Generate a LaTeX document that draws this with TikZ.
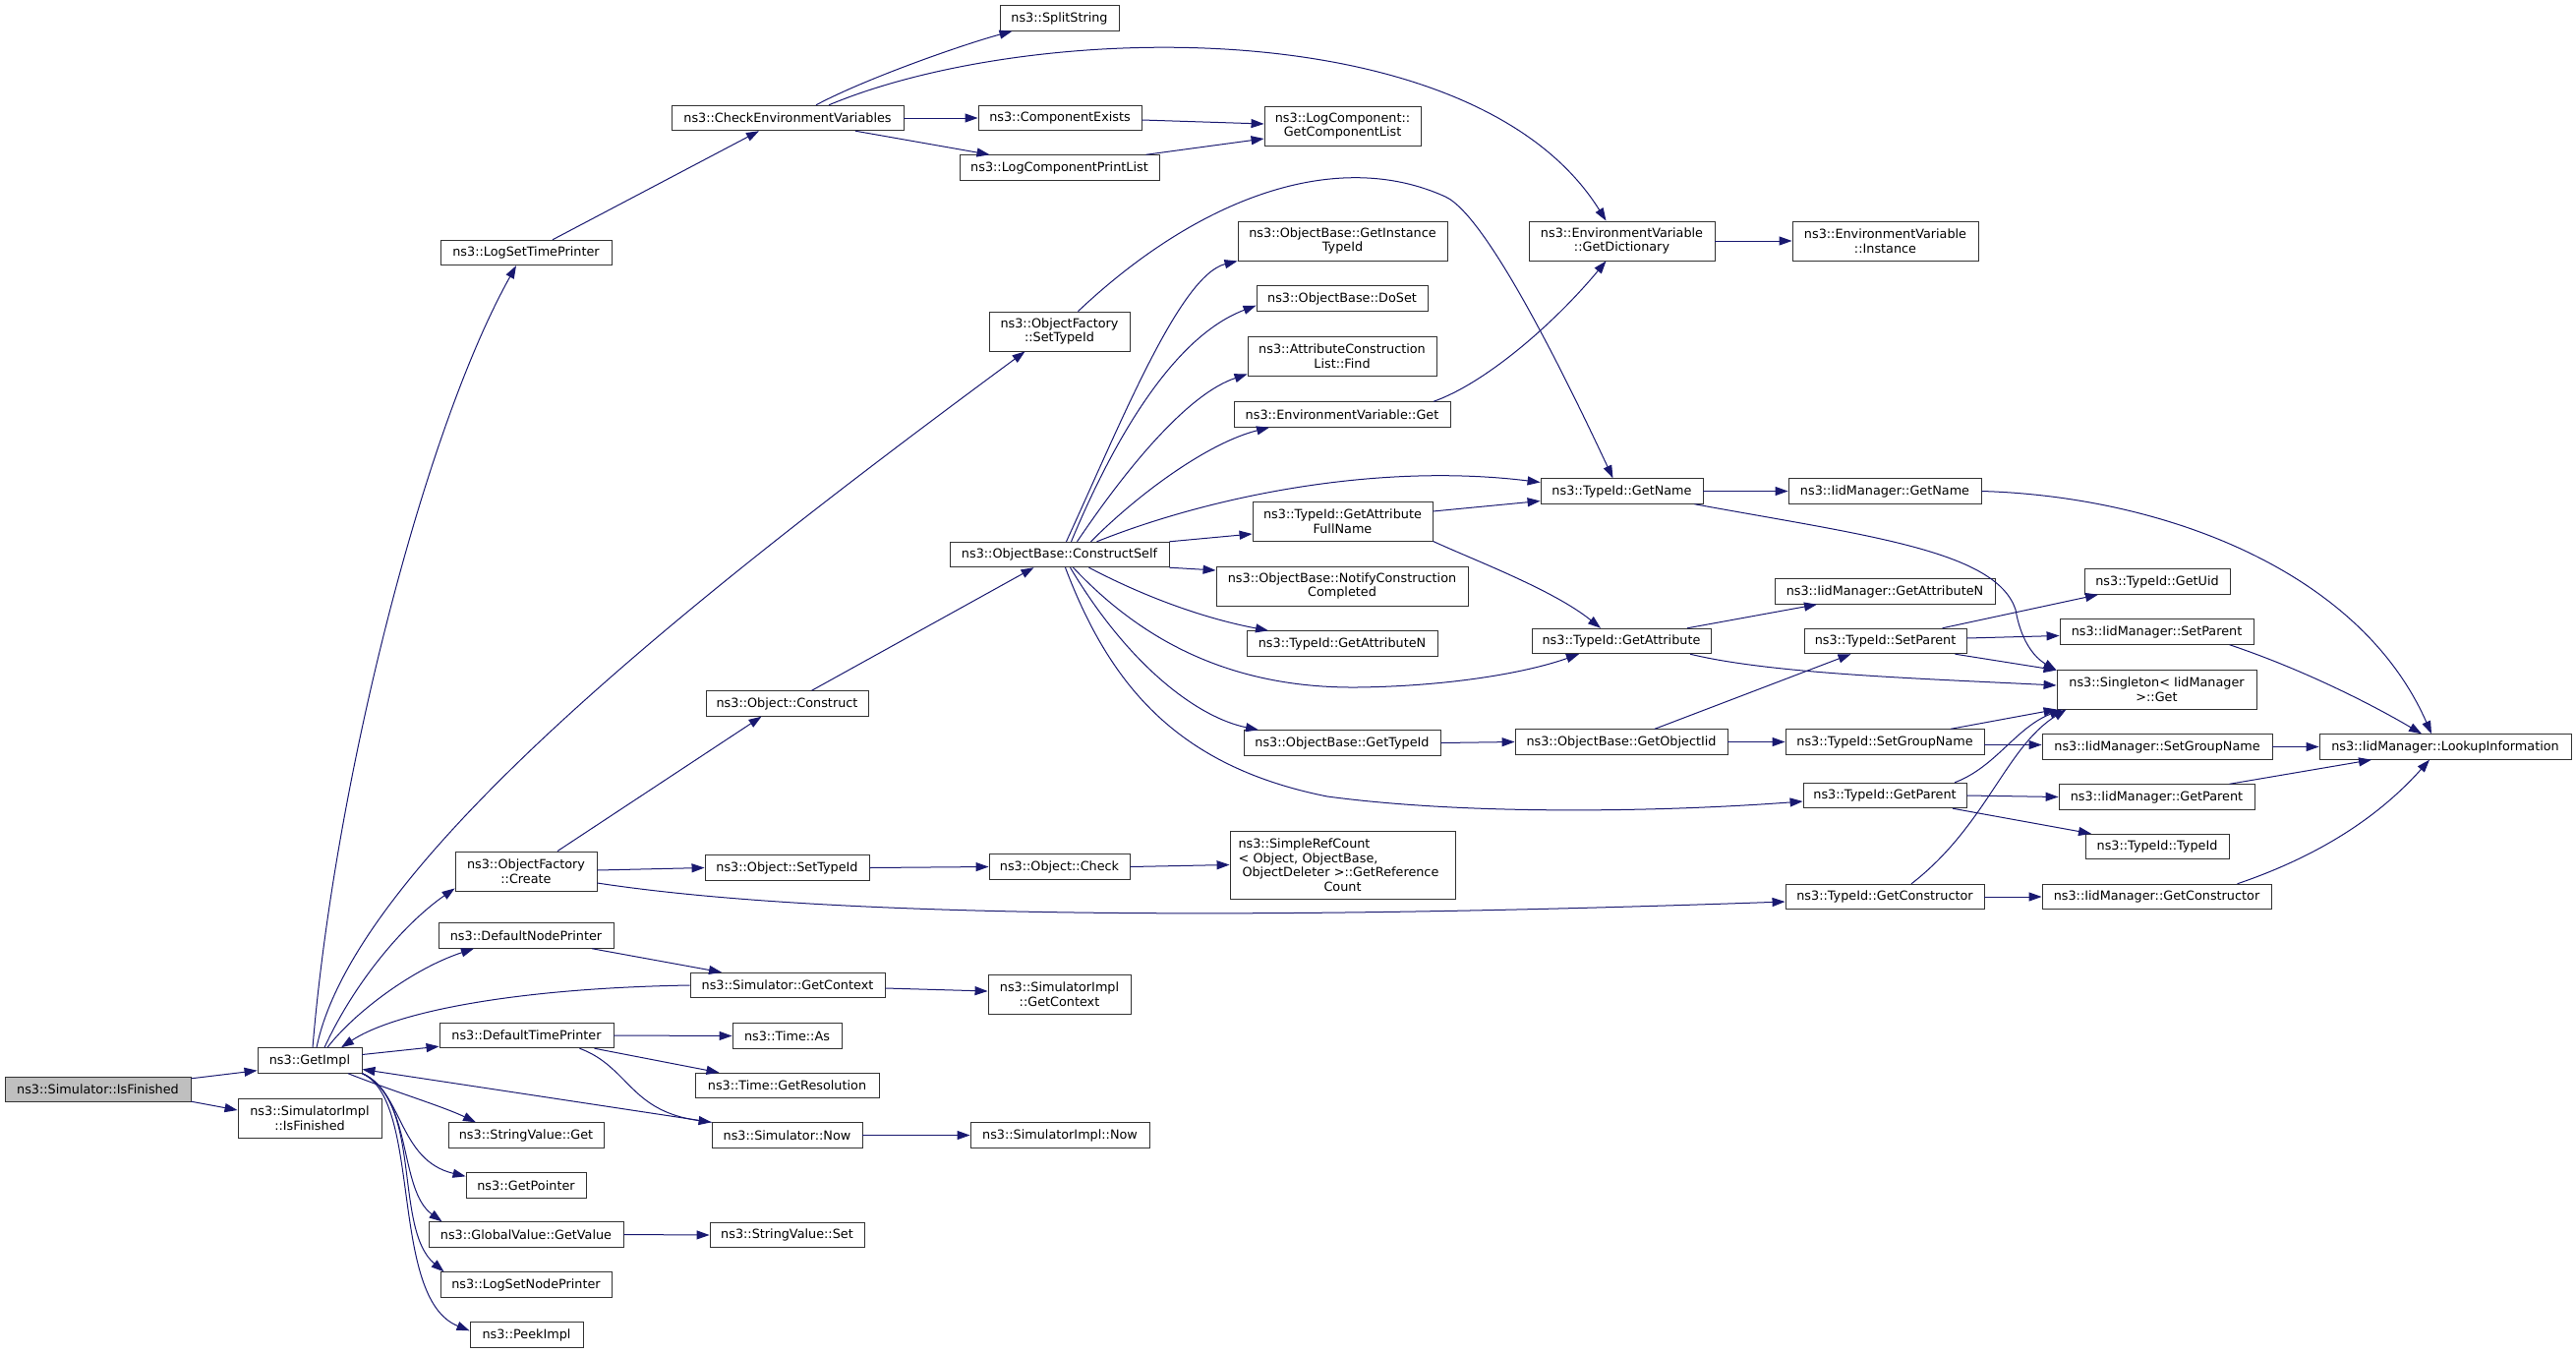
\documentclass[tikz,border=0pt]{standalone}
\usepackage{fontspec}
\setmainfont{DejaVu Sans}
\usetikzlibrary{arrows.meta}
\definecolor{edgec}{HTML}{191970}
\definecolor{rootfill}{HTML}{BFBFBF}
\tikzset{
 fn/.style={draw=black!80, line width=0.9pt, fill=white, inner sep=0pt, minimum height=25.5pt, font=\fontsize{12.8}{14.5}\selectfont, align=center},
 fn2/.style={fn, minimum height=40pt},
 ed/.style={draw=edgec, line width=1pt, -{Triangle[length=13pt,width=9pt]}},
}
\begin{document}
\begin{tikzpicture}[x=1pt,y=-1pt]
\useasboundingbox (0,0) rectangle (2620,1376);
% column 1-3
\node[fn, minimum width=189pt, fill=rootfill] (root) at (99.5,1108) {ns3::Simulator::IsFinished};
\node[fn, minimum width=106pt] (getimpl) at (315,1078.5) {ns3::GetImpl};
\node[fn2, minimum width=146pt] (simimplfin) at (315,1137) {ns3::SimulatorImpl\\::IsFinished};
\node[fn, minimum width=174pt] (lstp) at (535,257) {ns3::LogSetTimePrinter};
\node[fn2, minimum width=144pt] (ofcreate) at (535,886) {ns3::ObjectFactory\\::Create};
\node[fn, minimum width=178pt] (dnp) at (535,951.5) {ns3::DefaultNodePrinter};
\node[fn, minimum width=177pt] (dtp) at (535.5,1053) {ns3::DefaultTimePrinter};
\node[fn, minimum width=158pt] (svget) at (535,1154.5) {ns3::StringValue::Get};
\node[fn, minimum width=122pt] (getptr) at (535,1205.5) {ns3::GetPointer};
\node[fn, minimum width=198pt] (gvgetval) at (535,1255.5) {ns3::GlobalValue::GetValue};
\node[fn, minimum width=174pt] (lsnp) at (535,1306.5) {ns3::LogSetNodePrinter};
\node[fn, minimum width=115pt] (peek) at (535.5,1357.5) {ns3::PeekImpl};
% column 4
\node[fn, minimum width=236pt] (checkenv) at (801,120) {ns3::CheckEnvironmentVariables};
\node[fn, minimum width=165pt] (construct) at (800.5,715.5) {ns3::Object::Construct};
\node[fn, minimum width=167pt] (osettid) at (800.5,882.5) {ns3::Object::SetTypeId};
\node[fn, minimum width=198pt] (simctx) at (801,1002) {ns3::Simulator::GetContext};
\node[fn, minimum width=111pt] (timeas) at (800.5,1053.5) {ns3::Time::As};
\node[fn, minimum width=187pt] (timeres) at (800.5,1104) {ns3::Time::GetResolution};
\node[fn, minimum width=153pt] (simnow) at (800.5,1154.5) {ns3::Simulator::Now};
\node[fn, minimum width=157pt] (svset) at (800.5,1256) {ns3::StringValue::Set};
% column 5
\node[fn, minimum width=121pt] (split) at (1077.5,18.5) {ns3::SplitString};
\node[fn, minimum width=166pt] (compexists) at (1078,120) {ns3::ComponentExists};
\node[fn, minimum width=203pt] (lcpl) at (1077.5,170.5) {ns3::LogComponentPrintList};
\node[fn2, minimum width=143pt] (ofsettid) at (1077.5,337) {ns3::ObjectFactory\\::SetTypeId};
\node[fn, minimum width=223pt] (cself) at (1077.5,564) {ns3::ObjectBase::ConstructSelf};
\node[fn, minimum width=143pt] (check) at (1077.5,881.5) {ns3::Object::Check};
\node[fn2, minimum width=145pt] (simimplctx) at (1077.5,1011) {ns3::SimulatorImpl\\::GetContext};
\node[fn, minimum width=182pt] (simimplnow) at (1078,1154.5) {ns3::SimulatorImpl::Now};
% column 6
\node[fn2, minimum width=159pt] (getcomplist) at (1365.5,128) {ns3::LogComponent::\\GetComponentList};
\node[fn2, minimum width=213pt] (getinst) at (1365.5,245) {ns3::ObjectBase::GetInstance\\TypeId};
\node[fn, minimum width=174pt] (doset) at (1365,303.5) {ns3::ObjectBase::DoSet};
\node[fn2, minimum width=192pt] (acfind) at (1365,362) {ns3::AttributeConstruction\\List::Find};
\node[fn, minimum width=220pt] (envget) at (1365,421.5) {ns3::EnvironmentVariable::Get};
\node[fn2, minimum width=183pt] (gafn) at (1365.5,530) {ns3::TypeId::GetAttribute\\FullName};
\node[fn2, minimum width=256pt] (notify) at (1365,596) {ns3::ObjectBase::NotifyConstruction\\Completed};
\node[fn, minimum width=194pt] (tgetattrn) at (1365,654.5) {ns3::TypeId::GetAttributeN};
\node[fn, minimum width=200pt] (obgettid) at (1365,755.5) {ns3::ObjectBase::GetTypeId};
\node[fn, minimum width=229pt, minimum height=69pt, text width=212pt, align=left] (srefcount) at (1365.5,879.5) {ns3::SimpleRefCount\\< Object, ObjectBase,\\\hspace*{4pt}ObjectDeleter >::GetReference\par\centering Count\par};
% column 7
\node[fn2, minimum width=189pt] (getdict) at (1649.5,245) {ns3::EnvironmentVariable\\::GetDictionary};
\node[fn, minimum width=165pt] (tgetname) at (1649.5,499.5) {ns3::TypeId::GetName};
\node[fn, minimum width=182pt] (tgetattr) at (1649,652) {ns3::TypeId::GetAttribute};
\node[fn, minimum width=216pt] (getobjiid) at (1649,754.5) {ns3::ObjectBase::GetObjectIid};
% column 8
\node[fn2, minimum width=189pt] (instance) at (1917.5,245) {ns3::EnvironmentVariable\\::Instance};
\node[fn, minimum width=196pt] (igetname) at (1917,499.5) {ns3::IidManager::GetName};
\node[fn, minimum width=224pt] (igetattrn) at (1917,601.5) {ns3::IidManager::GetAttributeN};
\node[fn, minimum width=165pt] (tsetparent) at (1917.5,652) {ns3::TypeId::SetParent};
\node[fn, minimum width=202pt] (tsetgroup) at (1917,754.5) {ns3::TypeId::SetGroupName};
\node[fn, minimum width=166pt] (tgetparent) at (1917,809) {ns3::TypeId::GetParent};
\node[fn, minimum width=202pt] (tgetctor) at (1917,912) {ns3::TypeId::GetConstructor};
% column 9
\node[fn, minimum width=148pt] (getuid) at (2194,591.5) {ns3::TypeId::GetUid};
\node[fn, minimum width=197pt] (isetparent) at (2193.5,642.5) {ns3::IidManager::SetParent};
\node[fn2, minimum width=203pt] (singleton) at (2193.5,701) {ns3::Singleton< IidManager\\ >::Get};
\node[fn, minimum width=234pt] (isetgroup) at (2194,759.5) {ns3::IidManager::SetGroupName};
\node[fn, minimum width=199pt] (igetparent) at (2193.5,810.5) {ns3::IidManager::GetParent};
\node[fn, minimum width=146pt] (typeid) at (2194,861) {ns3::TypeId::TypeId};
\node[fn, minimum width=233pt] (igetctor) at (2193.5,912) {ns3::IidManager::GetConstructor};
% column 10
\node[fn, minimum width=256pt] (lookup) at (2487,759.5) {ns3::IidManager::LookupInformation};

% ---------------- edges
\draw[ed] ([yshift=-2pt]root.north east) -- ([yshift=3pt]getimpl.south west);
\draw[ed] ([yshift=1pt]root.south east) -- ([yshift=8pt]simimplfin.west);
\draw[ed] ([xshift=3pt]getimpl.north) .. controls (340,800) and (430,440) .. ([xshift=-10pt]lstp.south);
\draw[ed] ([xshift=7pt]getimpl.north) .. controls (360,880) and (700,610) .. ([xshift=-35pt]ofsettid.south);
\draw[ed] ([xshift=15pt]getimpl.north) .. controls (360,1000) and (410,940) .. ([yshift=3pt]ofcreate.south west);
\draw[ed] ([xshift=18pt]getimpl.north) .. controls (360,1030) and (420,985) .. ([xshift=-53pt]dnp.south);
\draw[ed] (simctx.west) .. controls (520,1005) and (400,1030) .. ([xshift=32pt]getimpl.north);
\draw[ed] ([yshift=6pt]getimpl.east) -- ([yshift=2pt]dtp.south west);
\draw[ed] (simnow.north west) -- ([yshift=-9pt]getimpl.east);
\draw[ed] ([xshift=39pt]getimpl.south) .. controls (400,1110) and (450,1125) .. ([xshift=-51pt]svget.north);
\draw[ed] (getimpl.south east) .. controls (410,1110) and (405,1180) .. ([yshift=-4pt]getptr.north west);
\draw[ed] (getimpl.south east) .. controls (420,1115) and (405,1210) .. ([xshift=14pt]gvgetval.north west);
\draw[ed] (getimpl.south east) .. controls (430,1120) and (400,1250) .. ([xshift=4pt]lsnp.north west);
\draw[ed] (getimpl.south east) .. controls (430,1120) and (395,1320) .. ([yshift=-9pt]peek.north west);
\draw[ed] ([xshift=27pt]lstp.north) -- ([xshift=-29pt]checkenv.south);
\draw[ed] ([xshift=29pt]checkenv.north) .. controls (880,80) and (980,45) .. ([xshift=-48pt]split.south);
\draw[ed] ([xshift=42pt]checkenv.north) .. controls (1050,20) and (1500,10) .. ([xshift=-16pt]getdict.north);
\draw[ed] (checkenv.east) -- (compexists.west);
\draw[ed] ([xshift=69pt]checkenv.south) -- ([xshift=-71pt]lcpl.north);
\draw[ed] ([yshift=-2pt]compexists.east) -- ([yshift=2pt]getcomplist.west);
\draw[ed] ([xshift=88pt]lcpl.north) -- ([yshift=-13pt]getcomplist.west);
\draw[ed] ([xshift=19pt]ofsettid.north) .. controls (1220,200) and (1360,150) .. (1470,200) .. controls (1514,220) and (1600,400) .. ([xshift=-9pt]tgetname.north);
\draw[ed] ([xshift=32pt]ofcreate.north) -- ([xshift=-26pt]construct.south);
\draw[ed] ([yshift=1pt]ofcreate.east) -- (osettid.west);
\draw[ed] ([yshift=-12pt]ofcreate.east) .. controls (850,935) and (1300,935) .. ([yshift=-5pt]tgetctor.west);
\draw[ed] ([xshift=25pt]construct.north) -- ([xshift=-26pt]cself.south);
\draw[ed] (osettid.east) -- (check.west);
\draw[ed] (check.east) -- (srefcount.west);
\draw[ed] ([xshift=7pt]cself.north) .. controls (1140,430) and (1200,280) .. (getinst.south west);
\draw[ed] ([xshift=12pt]cself.north) .. controls (1140,430) and (1200,340) .. ([yshift=6pt]doset.south west);
\draw[ed] ([xshift=18pt]cself.north) .. controls (1150,470) and (1210,400) .. ([yshift=2pt]acfind.south west);
\draw[ed] ([xshift=32pt]cself.north) .. controls (1160,500) and (1230,450) .. ([xshift=-74pt]envget.south);
\draw[ed] ([xshift=38pt]cself.north) .. controls (1230,505) and (1400,470) .. ([yshift=9pt]tgetname.west);
\draw[ed] (cself.north east) -- ([yshift=-13pt]gafn.west);
\draw[ed] (cself.south east) -- ([yshift=16pt]notify.west);
\draw[ed] ([xshift=30pt]cself.south) .. controls (1170,610) and (1230,630) .. ([xshift=-75pt]tgetattrn.north);
\draw[ed] ([xshift=14pt]cself.south) .. controls (1160,650) and (1250,700) .. (1380,699) .. controls (1470,698) and (1550,685) .. ([xshift=-43pt]tgetattr.south);
\draw[ed] ([xshift=11pt]cself.south) .. controls (1150,680) and (1220,730) .. ([xshift=-85pt]obgettid.north);
\draw[ed] ([xshift=6pt]cself.south) .. controls (1130,700) and (1200,780) .. (1350,810) .. controls (1500,830) and (1700,825) .. ([yshift=-6pt]tgetparent.west);
\draw[ed] ([xshift=93pt]envget.north) .. controls (1510,390) and (1580,330) .. ([xshift=-16pt]getdict.south);
\draw[ed] (getdict.east) -- (instance.west);
\draw[ed] ([yshift=10pt]gafn.east) -- ([yshift=-10pt]tgetname.west);
\draw[ed] ([xshift=92pt]gafn.south) .. controls (1500,570) and (1580,600) .. ([xshift=-21pt]tgetattr.north);
\draw[ed] (tgetname.east) -- (igetname.west);
\draw[ed] ([xshift=74pt]tgetname.south) .. controls (1900,545) and (2030,560) .. (2050,620) .. controls (2055,650) and (2068,668) .. ([yshift=-1pt]singleton.north west);
\draw[ed] (igetname.east) .. controls (2200,505) and (2400,580) .. ([xshift=-14pt]lookup.north);
\draw[ed] ([xshift=67pt]tgetattr.north) -- ([xshift=-69pt]igetattrn.south);
\draw[ed] ([xshift=70pt]tgetattr.south) .. controls (1800,685) and (1950,690) .. ([yshift=4pt]singleton.west);
\draw[ed] (obgettid.east) -- (getobjiid.west);
\draw[ed] ([xshift=34pt]getobjiid.north) -- ([xshift=-35pt]tsetparent.south);
\draw[ed] (getobjiid.east) -- (tsetgroup.west);
\draw[ed] ([xshift=58pt]tsetparent.north) -- ([xshift=-60pt]getuid.south);
\draw[ed] ([yshift=3pt]tsetparent.east) -- ([yshift=-4pt]isetparent.west);
\draw[ed] ([xshift=71pt]tsetparent.south) -- ([yshift=-1pt]singleton.north west);
\draw[ed] ([xshift=67pt]tsetgroup.north) -- (singleton.south west);
\draw[ed] ([yshift=-3pt]tsetgroup.east) -- ([yshift=2pt]isetgroup.west);
\draw[ed] ([xshift=71pt]tgetparent.north) .. controls (2030,780) and (2050,740) .. ([xshift=6pt]singleton.south west);
\draw[ed] (tgetparent.east) -- (igetparent.west);
\draw[ed] ([xshift=69pt]tgetparent.south) -- ([xshift=-67pt]typeid.north);
\draw[ed] ([xshift=27pt]tgetctor.north) .. controls (2020,840) and (2040,760) .. ([xshift=10pt]singleton.south west);
\draw[ed] (tgetctor.east) -- (igetctor.west);
\draw[ed] ([xshift=74pt]isetparent.south) .. controls (2340,680) and (2410,715) .. ([xshift=-24pt]lookup.north);
\draw[ed] (isetgroup.east) -- (lookup.west);
\draw[ed] ([xshift=74pt]igetparent.north) -- ([xshift=-75pt]lookup.south);
\draw[ed] ([xshift=82pt]igetctor.north) .. controls (2360,870) and (2420,830) .. ([xshift=-16pt]lookup.south);
\draw[ed] ([xshift=67pt]dnp.south) -- ([xshift=-67pt]simctx.north);
\draw[ed] ([yshift=-3pt]simctx.east) -- ([yshift=3pt]simimplctx.west);
\draw[ed] (dtp.east) -- (timeas.west);
\draw[ed] ([xshift=69pt]dtp.south) -- ([xshift=-69pt]timeres.north);
\draw[ed] ([xshift=54pt]dtp.south) .. controls (640,1085) and (640,1130) .. (simnow.north west);
\draw[ed] (simnow.east) -- (simimplnow.west);
\draw[ed] (gvgetval.east) -- (svset.west);
\end{tikzpicture}
\end{document}
